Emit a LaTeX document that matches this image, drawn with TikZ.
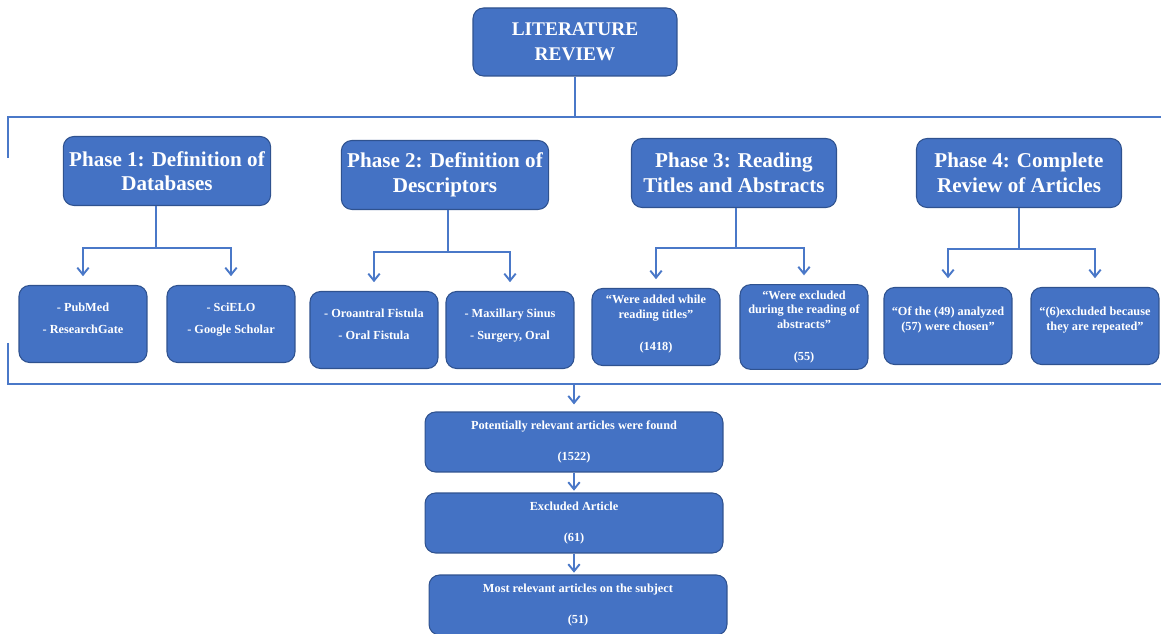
\documentclass[tikz,border=0pt]{standalone}
\usepackage{fontspec}
\setmainfont{Liberation Serif}
\usepackage{xcolor}
\usetikzlibrary{arrows.meta}
\definecolor{vblue}{HTML}{4472c4}
\definecolor{vdarkblue}{HTML}{2f528f}
\definecolor{vline}{HTML}{4a78c8}
\tikzset{
	box/.style={draw=vdarkblue, fill=vblue, rounded corners=6pt, text=white, align=center, font=\bfseries\fontsize{12}{14}\selectfont, line width=0.6pt},
	phasebox/.style={box, minimum width=4.1cm, minimum height=1.38cm},
	leafbox/.style={box, minimum width=2.56cm, minimum height=1.54cm, font=\bfseries\fontsize{7}{8.4}\selectfont},
	resultbox/.style={box, minimum width=5.96cm, minimum height=1.2cm, font=\bfseries\fontsize{7}{8.4}\selectfont},
	link/.style={color=vline, line width=1.1pt},
	arr/.style={link, -{Straight Barb[length=4pt,width=6.5pt]}}
}
\begin{document}
\begin{tikzpicture}[x=0.02cm, y=-0.02cm]
		\useasboundingbox (0,0) rectangle (1161,634);
		\node[box, minimum width=4.08cm, minimum height=1.36cm, font=\bfseries\fontsize{11}{14}\selectfont] (review) at (575,42) {LITERATURE\\REVIEW};
		\node[phasebox] (p1) at (167,171) {Phase 1: Definition of\\Databases};
		\node[phasebox] (p2) at (445,175) {Phase 2: Definition of\\Descriptors};
		\node[phasebox] (p3) at (734,173) {Phase 3: Reading\\Titles and Abstracts};
		\node[phasebox] (p4) at (1019,173) {Phase 4: Complete\\Review of Articles};
		\node[leafbox] (pubmed) at (83,324) {- PubMed\\[4pt]- ResearchGate\\[-2pt]};
		\node[leafbox] (scielo) at (231,324) {- SciELO\\[4pt]- Google Scholar\\[-2pt]};
		\node[leafbox] (oroantral) at (374,330) {- Oroantral Fistula\\[4pt]- Oral Fistula\\[-2pt]};
		\node[leafbox] (maxillary) at (510,330) {- Maxillary Sinus\\[4pt]- Surgery, Oral\\[-2pt]};
		\node[leafbox] (added) at (656,327) {“Were added while\\reading titles”\\[10pt](1418)\\[-4pt]};
		\node[leafbox] (excluded) at (804,327) {“Were excluded\\during the reading of\\abstracts”\\[10pt](55)};
		\node[leafbox] (chosen) at (948,326) {“Of the (49) analyzed\\(57) were chosen”\\};
		\node[leafbox] (repeated) at (1095,326) {“(6)excluded because\\they are repeated”\\};
		\node[resultbox] (found) at (574,442) {Potentially relevant articles were found\\[9pt](1522)};
		\node[resultbox] (exclart) at (574,523) {Excluded Article\\[9pt](61)};
		\node[resultbox] (most) at (578,605) {Most relevant articles on the subject\\[9pt](51)};
		\coordinate (TL) at (8,158);
		\coordinate (TR) at (1165,117);
		\coordinate (BL) at (8,343);
		\coordinate (BR) at (1165,384);
		\coordinate (F1) at (156,248);
		\coordinate (F2) at (448,252);
		\coordinate (F3) at (736,248);
		\coordinate (F4) at (1019,249);
		\draw[link] (TL) |- (TR);
		\draw[link] (review.south) -- (review.south |- TR);
		\draw[link] (F1 |- p1.south) -- (F1);
		\draw[arr, shorten >=5pt] (F1) -| (pubmed.north);
		\draw[arr, shorten >=5pt] (F1) -| (scielo.north);
		\draw[link] (F2 |- p2.south) -- (F2);
		\draw[arr, shorten >=5pt] (F2) -| (oroantral.north);
		\draw[arr, shorten >=5pt] (F2) -| (maxillary.north);
		\draw[link] (F3 |- p3.south) -- (F3);
		\draw[arr, shorten >=5pt] (F3) -| (added.north);
		\draw[arr, shorten >=5pt] (F3) -| (excluded.north);
		\draw[link] (F4 |- p4.south) -- (F4);
		\draw[arr, shorten >=5pt] (F4) -| (chosen.north);
		\draw[arr, shorten >=5pt] (F4) -| (repeated.north);
		\draw[link] (BL) |- (BR);
		\draw[arr, shorten >=4pt] (found.north |- BR) -- (found.north);
		\draw[arr, shorten >=1pt] (found.south) -- (exclart.north);
		\draw[arr, shorten >=1pt] (exclart.south) -- (exclart.south |- most.north);
	\end{tikzpicture}
\end{document}
